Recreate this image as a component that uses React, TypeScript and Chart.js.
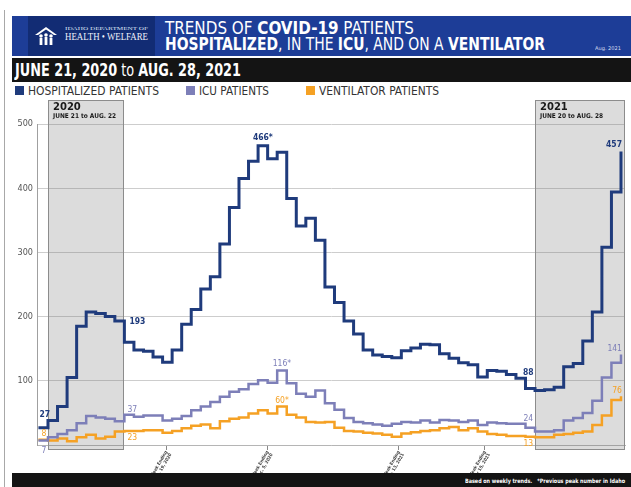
import React, { useEffect, useLayoutEffect, useRef } from 'react';
import { Chart, registerables } from 'chart.js';

Chart.register(...registerables);

const NARROW = '"Liberation Sans Narrow", "Arial Narrow", "DejaVu Sans Condensed", "Liberation Sans", sans-serif';

// Weekly values (first entry is the partial week before June 21, 2020; last entry is the final reading)
const HOSPITALIZED = [27, 38, 60, 105, 185, 207, 205, 200, 193, 160, 148, 146, 137, 129, 148, 188, 211, 243, 262, 313, 370, 415, 442, 466, 446, 456, 384, 341, 353, 319, 246, 222, 193, 173, 148, 140, 138, 136, 147, 151, 157, 156, 142, 135, 128, 125, 106, 116, 115, 110, 104, 88, 85, 86, 90, 122, 127, 162, 207, 308, 394, 457];
const ICU = [7, 12, 17, 23, 34, 45, 43, 41, 37, 47, 44, 46, 46, 38, 41, 45, 54, 60, 67, 75, 83, 87, 95, 101, 97, 116, 96, 80, 75, 85, 65, 55, 42, 36, 34, 32, 30, 33, 36, 35, 38, 35, 39, 38, 36, 38, 31, 35, 34, 33, 33, 27, 21, 21, 23, 38, 42, 50, 69, 105, 128, 141];
const VENTILATOR = [8, 7, 10, 6, 12, 16, 10, 13, 21, 22, 22, 23, 23, 19, 22, 26, 30, 32, 26, 37, 41, 43, 49, 54, 49, 60, 47, 43, 36, 35, 36, 27, 22, 21, 19, 18, 16, 13, 18, 20, 22, 23, 26, 28, 23, 26, 21, 17, 16, 14, 14, 13, 12, 12, 16, 17, 19, 21, 31, 46, 70, 76];
const WEEKS = HOSPITALIZED.map((_, i) => i - 1);

const SERIES_NAMES = ['HOSPITALIZED PATIENTS', 'ICU PATIENTS', 'VENTILATOR PATIENTS'];
const SERIES = [HOSPITALIZED, ICU, VENTILATOR];
const COLORS = ['#1f3b7c', '#7d7fb8', '#f5a124'];

const X_MIN = -1.15;
const X_MAX = 60.42;
const TICK_WEEKS = [12.4, 23, 36.75, 45.75];
const TICK_LABELS = [
  ['Week Ending', 'Sept. 19, 2020'],
  ['Week Ending', 'Dec. 5, 2020'],
  ['Week Ending', 'Mar. 13, 2021'],
  ['Week Ending', 'May 15, 2021'],
];
const Y_MAX = 500;
const Y_STEP = 100;

const PERIODS = [
  { year: '2020', range: 'JUNE 21 to AUG. 22', from: 0, to: 8 },
  { year: '2021', range: 'JUNE 20 to AUG. 28', from: 51, to: X_MAX },
];

const ANNOTATIONS = [
  { series: 0, index: 0, text: '27', at: 0, dx: 1, dy: -13, align: 'left', bold: true },
  { series: 2, index: 0, text: '8', at: 0, dx: 3, dy: -6, align: 'left', bold: false },
  { series: 1, index: 0, text: '7', at: 0, dx: 3, dy: 10, align: 'left', bold: false },
  { series: 0, index: 8, text: '193', at: 1, dx: 5, dy: 1, align: 'left', bold: true },
  { series: 1, index: 8, text: '37', at: 1, dx: 3, dy: -11, align: 'left', bold: false },
  { series: 2, index: 8, text: '23', at: 1, dx: 3, dy: 6, align: 'left', bold: false },
  { series: 0, index: 23, text: '466*', at: 0.5, dx: 0, dy: -8, align: 'center', bold: true },
  { series: 1, index: 25, text: '116*', at: 0.5, dx: 0, dy: -7, align: 'center', bold: false },
  { series: 2, index: 25, text: '60*', at: 0.5, dx: 0, dy: -6, align: 'center', bold: false },
  { series: 0, index: 51, text: '88', at: 0.3, dx: 0, dy: -16, align: 'center', bold: true },
  { series: 1, index: 51, text: '24', at: 0.3, dx: 0, dy: -9, align: 'center', bold: false },
  { series: 2, index: 51, text: '13', at: 0.3, dx: 0, dy: 7, align: 'center', bold: false },
  { series: 0, index: 61, text: '457', at: 0, dx: 1, dy: -7, align: 'right', bold: true },
  { series: 1, index: 61, text: '141', at: 0, dx: 1, dy: -6, align: 'right', bold: false },
  { series: 2, index: 61, text: '76', at: 0, dx: 1, dy: -5, align: 'right', bold: false },
];

const overlayPlugin = {
  id: 'overlay',
  beforeDatasetsDraw(chart: any) {
    const { ctx, chartArea, scales } = chart;
    const x = scales.x;
    PERIODS.forEach((p) => {
      const x1 = Math.round(x.getPixelForValue(p.from));
      const x2 = Math.round(Math.min(x.getPixelForValue(p.to), chartArea.right));
      const top = Math.round(chartArea.top - 24);
      const bottom = Math.round(chartArea.bottom + 5);
      ctx.save();
      ctx.fillStyle = 'rgba(110,110,110,0.24)';
      ctx.fillRect(x1, top, x2 - x1, bottom - top);
      ctx.strokeStyle = '#8c8c8c';
      ctx.lineWidth = 1;
      ctx.strokeRect(x1 + 0.5, top + 0.5, x2 - x1 - 1, bottom - top - 1);
      ctx.fillStyle = '#1a1a1a';
      ctx.textBaseline = 'middle';
      ctx.textAlign = 'left';
      ctx.font = `bold 10px "DejaVu Sans", sans-serif`;
      ctx.fillText(p.year, x1 + 5, top + 7);
      ctx.font = `bold 6.5px ${NARROW}`;
      ctx.fillText(p.range, x1 + 5, top + 16);
      ctx.restore();
    });
  },
  afterDatasetsDraw(chart: any) {
    const { ctx, scales } = chart;
    const x = scales.x;
    const y = scales.y;
    ctx.save();
    ctx.textBaseline = 'middle';
    ANNOTATIONS.forEach((a) => {
      const vals = SERIES[a.series];
      const px = x.getPixelForValue(WEEKS[a.index] + a.at) + a.dx;
      const py = y.getPixelForValue(vals[a.index]) + a.dy;
      ctx.fillStyle = COLORS[a.series];
      ctx.textAlign = a.align;
      ctx.font = `${a.bold ? 'bold ' : ''}8.5px ${NARROW}`;
      ctx.fillText(a.text, px, py);
    });
    ctx.restore();
  },
};

function Fit({ w, style, children }: any) {
  const ref = useRef<HTMLSpanElement>(null);
  useLayoutEffect(() => {
    const el = ref.current;
    if (!el) return;
    el.style.transform = 'none';
    const nat = el.getBoundingClientRect().width;
    if (nat > 0) el.style.transform = `scaleX(${w / nat})`;
  }, [w]);
  return (
    <span
      ref={ref}
      style={{ display: 'inline-block', whiteSpace: 'nowrap', transformOrigin: 'left center', ...style }}
    >
      {children}
    </span>
  );
}

export default function App() {
  const ref = useRef<HTMLCanvasElement>(null);

  useEffect(() => {
    const canvas = ref.current;
    if (!canvas) return;
    const chart = new Chart(canvas, {
      type: 'line',
      data: {
        datasets: SERIES.map((vals, s) => ({
          label: SERIES_NAMES[s],
          data: WEEKS.map((w, i) => ({ x: w, y: vals[i] })),
          borderColor: COLORS[s],
          backgroundColor: COLORS[s],
          borderWidth: s === 0 ? 3 : 2.5,
          stepped: 'before' as const,
          pointRadius: 0,
          fill: false,
          borderJoinStyle: 'miter' as const,
        })),
      },
      options: {
        animation: false,
        responsive: false,
        maintainAspectRatio: false,
        layout: { padding: { top: 26, right: 6, left: 0, bottom: 0 } },
        plugins: { legend: { display: false }, tooltip: { enabled: false } },
        scales: {
          x: {
            type: 'linear',
            min: X_MIN,
            max: X_MAX,
            afterBuildTicks: (s: any) => {
              s.ticks = TICK_WEEKS.map((v) => ({ value: v }));
            },
            afterFit: (s: any) => {
              s.height = 29;
            },
            grid: { drawOnChartArea: false, drawTicks: true, tickLength: 5, color: '#888' },
            border: { display: true, color: '#b5b5b5' },
            ticks: {
              autoSkip: false,
              minRotation: 60,
              maxRotation: 60,
              padding: 0,
              color: '#444',
              font: { family: NARROW, size: 4.5, weight: 'bold', lineHeight: 1.1 },
              callback: (_v: any, i: number) => TICK_LABELS[i],
            },
          },
          y: {
            min: 0,
            max: Y_MAX,
            afterFit: (s: any) => {
              s.width = 37;
            },
            ticks: {
              stepSize: Y_STEP,
              padding: 4,
              color: '#555',
              font: { family: NARROW, size: 9 },
              callback: (v: any) => (v === 0 ? '' : String(v)),
            },
            grid: { color: '#cdcdcd', drawTicks: false },
            border: { display: true, color: '#a0a0a0' },
          },
        },
      },
      plugins: [overlayPlugin],
    } as any);
    return () => chart.destroy();
  }, []);

  const legendItems = [
    { x: 15, tx: 28, w: 131 },
    { x: 186, tx: 199, w: 70 },
    { x: 306, tx: 319, w: 120 },
  ];

  return (
    <div
      style={{
        position: 'absolute',
        left: 0,
        top: 0,
        width: 631,
        height: 487,
        background: '#fff',
        overflow: 'hidden',
        fontFamily: NARROW,
      }}
    >
      <div style={{ position: 'absolute', left: 4, top: 10, width: 1, height: 477, background: '#a8a8a8' }} />

      {/* banner */}
      <div style={{ position: 'absolute', left: 12, top: 16, width: 619, height: 40, background: '#1d3d97' }}>
        <div style={{ position: 'absolute', left: 16, top: 0, width: 127, height: 40, background: '#122c74' }} />
        <svg style={{ position: 'absolute', left: 21, top: 10 }} width="26" height="20" viewBox="0 0 26 20">
          <polygon points="2,9 13,1 24,9 21,9 13,3.5 5,9" fill="#fff" />
          <circle cx="8" cy="10" r="1.8" fill="#fff" />
          <rect x="6.6" y="12" width="2.8" height="7" fill="#fff" />
          <circle cx="13" cy="9" r="1.8" fill="#fff" />
          <rect x="11.6" y="11" width="2.8" height="8" fill="#fff" />
          <circle cx="18" cy="10" r="1.8" fill="#fff" />
          <rect x="16.6" y="12" width="2.8" height="7" fill="#fff" />
        </svg>
        <div style={{ position: 'absolute', left: 53, top: 11, lineHeight: '4px', fontSize: 3.6, color: '#dfe5f5', fontFamily: '"Liberation Serif", serif' }}>
          <Fit w={83}>IDAHO DEPARTMENT OF</Fit>
        </div>
        <div style={{ position: 'absolute', left: 53, top: 16, lineHeight: '10px', fontSize: 10, color: '#eef1fa', fontFamily: '"Liberation Serif", serif' }}>
          <Fit w={83}>HEALTH • WELFARE</Fit>
        </div>
        <div style={{ position: 'absolute', left: 153, top: 4, lineHeight: '17px', fontSize: 17, color: '#fff' }}>
          <Fit w={249}>
            TRENDS OF <b>COVID-19</b> PATIENTS
          </Fit>
        </div>
        <div style={{ position: 'absolute', left: 153, top: 20, lineHeight: '17px', fontSize: 17, color: '#fff' }}>
          <Fit w={380}>
            <b>HOSPITALIZED</b>, IN THE <b>ICU</b>, AND ON A <b>VENTILATOR</b>
          </Fit>
        </div>
        <div style={{ position: 'absolute', left: 583, top: 29, lineHeight: '6px', fontSize: 5, color: '#d8def0' }}>
          <Fit w={26}>Aug. 2021</Fit>
        </div>
      </div>

      {/* date bar */}
      <div style={{ position: 'absolute', left: 12, top: 58, width: 619, height: 24, background: '#141414' }}>
        <div style={{ position: 'absolute', left: 3, top: 3, lineHeight: '18px', fontSize: 18, color: '#fff' }}>
          <Fit w={226}>
            <b>JUNE 21, 2020</b> to <b>AUG. 28, 2021</b>
          </Fit>
        </div>
      </div>

      {/* legend */}
      {legendItems.map((it, i) => (
        <React.Fragment key={i}>
          <div style={{ position: 'absolute', left: it.x, top: 86, width: 9, height: 9, background: COLORS[i] }} />
          <div style={{ position: 'absolute', left: it.tx, top: 84, lineHeight: '13px', fontSize: 13, color: '#333' }}>
            <Fit w={it.w}>{SERIES_NAMES[i]}</Fit>
          </div>
        </React.Fragment>
      ))}

      <canvas
        ref={ref}
        width={631}
        height={376}
        style={{ position: 'absolute', left: 0, top: 98, width: 631, height: 376 }}
      />

      {/* footer */}
      <div style={{ position: 'absolute', left: 12, top: 473, width: 619, height: 14, background: '#141414' }}>
        <div style={{ position: 'absolute', left: 453, top: 5, lineHeight: '6px', fontSize: 6, color: '#fff', fontWeight: 'bold' }}>
          <Fit w={160}>Based on weekly trends.&nbsp;&nbsp; *Previous peak number in Idaho</Fit>
        </div>
      </div>
    </div>
  );
}
